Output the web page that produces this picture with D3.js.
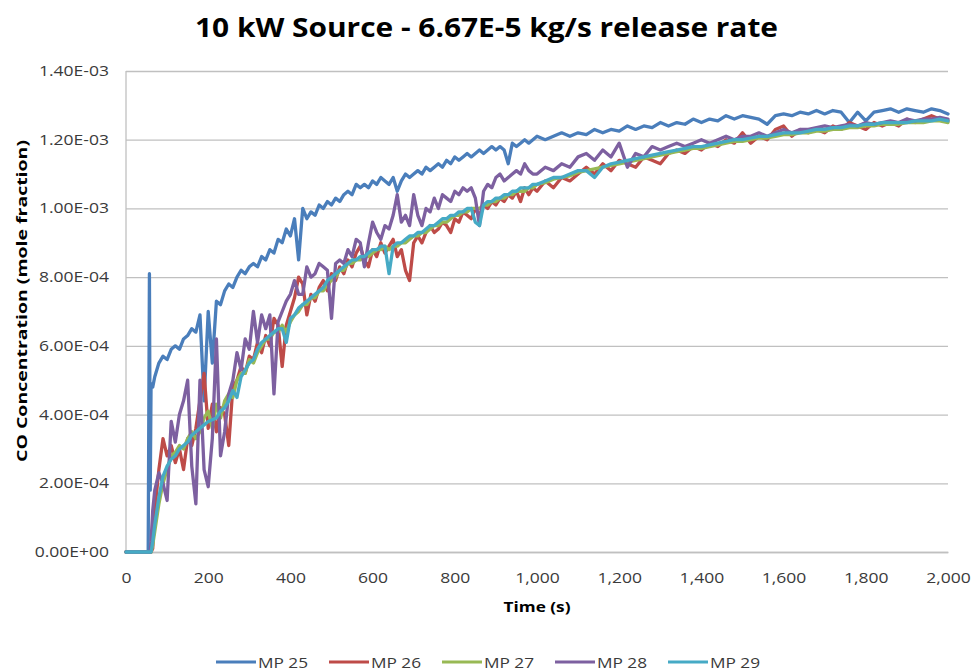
<!DOCTYPE html>
<html>
<head>
<meta charset="utf-8">
<script src="https://cdn.jsdelivr.net/npm/d3@7"></script>
<style>
  body { margin: 0; background: #ffffff; }
  svg { display: block; }
</style>
</head>
<body>
<svg id="chart" width="975" height="672"></svg>
<script>
// ---------------- DATA ----------------
// Time in seconds
const times = [
  0, 54, 57, 59, 61, 65,
  70, 80, 90, 100,
  110, 120, 130, 140, 150, 160, 170, 180, 190, 200,
  210, 220, 230, 240, 250, 260, 270, 280, 290, 300,
  310, 320, 330, 340, 350, 360, 370, 380, 390, 400,
  410, 420, 430, 440, 450, 460, 470, 480, 490, 500,
  510, 520, 530, 540, 550, 560, 570, 580, 590, 600,
  610, 620, 630, 640, 650, 660, 670, 680, 690, 700,
  710, 720, 730, 740, 750, 760, 770, 780, 790, 800,
  810, 820, 830, 840, 850, 860, 870, 880, 890, 900,
  910, 920, 930, 940, 950, 960, 970, 980, 990, 1000,
  1020, 1040, 1060, 1080, 1100, 1120, 1140, 1160, 1180, 1200,
  1220, 1240, 1260, 1280, 1300, 1320, 1340, 1360, 1380, 1400,
  1420, 1440, 1460, 1480, 1500, 1520, 1540, 1560, 1580, 1600,
  1620, 1640, 1660, 1680, 1700, 1720, 1740, 1760, 1780, 1800,
  1820, 1840, 1860, 1880, 1900, 1920, 1940, 1960, 1980, 2000
];

// CO concentration, in units of 1E-4 mole fraction
const mp25 = [
  0, 0, 8.1, 1.8, 4.9, 4.8,
  5.1, 5.5, 5.7, 5.6,
  5.9, 6.0, 5.9, 6.2, 6.3, 6.5, 6.4, 6.9, 4.4, 7.0,
  5.5, 7.3, 7.2, 7.6, 7.8, 7.7, 8.0, 8.2, 8.1, 8.3,
  8.4, 8.3, 8.6, 8.5, 8.8, 8.7, 9.1, 9.0, 9.4, 9.2,
  9.7, 8.5, 10.0, 9.7, 9.9, 9.8, 10.1, 10.0, 10.2, 10.1,
  10.3, 10.2, 10.4, 10.5, 10.4, 10.7, 10.6, 10.7, 10.6, 10.8,
  10.7, 10.9, 10.8, 10.7, 10.9, 10.5, 10.8, 11.0, 10.9, 11.0,
  11.1, 11.0, 11.2, 11.1, 11.2, 11.3, 11.2, 11.4, 11.3, 11.5,
  11.4, 11.5, 11.6, 11.5, 11.6, 11.7, 11.6, 11.7, 11.8, 11.7,
  11.8, 11.7, 11.3, 11.9, 11.8, 11.9, 12.0, 11.9, 12.0, 12.1,
  12.0, 12.1, 12.2, 12.1, 12.2, 12.15, 12.3, 12.2, 12.3, 12.25,
  12.4, 12.3, 12.4, 12.35, 12.5, 12.4, 12.5, 12.45, 12.6, 12.5,
  12.6, 12.55, 12.7, 12.6, 12.7, 12.65, 12.6, 12.45, 12.7, 12.75,
  12.7, 12.8, 12.75, 12.85, 12.75, 12.85, 12.8, 12.5, 12.8, 12.55,
  12.8, 12.85, 12.9, 12.8, 12.9, 12.85, 12.8, 12.9, 12.85, 12.75
];

const mp26 = [
  0, 0, 0, 0, 0, 0.1,
  1.2, 2.4, 3.3, 2.8,
  3.1, 2.6, 3.0, 2.4, 3.3, 3.1, 3.6, 4.4, 5.2, 3.6,
  4.3, 3.5, 4.2, 4.0, 3.1, 4.8, 5.0, 5.4, 5.2, 5.7,
  5.6, 6.1, 5.8, 6.3, 6.0, 6.8, 6.6, 5.4, 6.6, 7.0,
  7.4, 8.0, 7.8, 6.9, 7.5, 7.3, 7.7, 7.9, 7.6, 8.1,
  7.9, 8.3, 8.1, 8.5, 8.3, 8.7, 8.9, 8.5, 8.3, 8.8,
  8.6, 9.0, 8.7, 8.9, 9.1, 8.6, 8.8, 8.2, 7.9, 9.0,
  9.2, 9.0, 9.3, 9.5, 9.3, 9.4, 9.6, 9.5, 9.3, 9.7,
  9.6, 9.9, 9.8, 9.7, 10.0, 9.8, 10.1, 10.0, 10.2, 10.1,
  10.3, 10.2, 10.4, 10.3, 10.5, 10.2, 10.6, 10.4, 10.6, 10.5,
  10.8, 10.6, 10.9, 10.8, 11.0, 11.2, 11.0, 11.3, 11.1, 11.4,
  11.3, 11.2, 11.5, 11.4, 11.3, 11.6, 11.7, 11.6, 11.8, 11.7,
  11.9, 11.8, 12.0, 11.9, 12.2, 11.9, 12.1, 12.0, 12.3, 12.4,
  12.1, 12.3, 12.2, 12.3, 12.2, 12.4, 12.3, 12.5, 12.4, 12.3,
  12.5, 12.4, 12.5, 12.4, 12.6, 12.5, 12.6, 12.7, 12.6, 12.55
];

const mp27 = [
  0, 0, 0, 0, 0, 0.2,
  0.6, 1.4, 2.0, 2.4,
  2.8, 2.9, 3.1, 3.0, 3.3, 3.5, 3.3, 3.5, 3.9, 4.1,
  3.6, 4.3, 3.9, 4.4, 4.6, 4.5, 5.0, 5.2, 5.2, 5.6,
  5.5, 5.8, 6.0, 6.2, 6.2, 6.4, 6.4, 6.6, 6.4, 6.7,
  6.9, 7.0, 7.2, 7.2, 7.4, 7.4, 7.6, 7.6, 7.8, 7.9,
  8.0, 8.2, 8.2, 8.4, 8.4, 8.5, 8.5, 8.6, 8.6, 8.7,
  8.8, 8.8, 8.9, 8.8, 8.9, 8.9, 9.0, 9.0, 9.1, 9.2,
  9.2, 9.3, 9.3, 9.4, 9.5, 9.5, 9.6, 9.6, 9.7, 9.8,
  9.8, 9.9, 9.9, 10.0, 10.0, 10.0, 10.1, 10.1, 10.2, 10.2,
  10.3, 10.3, 10.4, 10.4, 10.5, 10.5, 10.5, 10.6, 10.6, 10.7,
  10.75, 10.85, 10.9, 10.95, 11.05, 11.1, 11.15, 11.2, 11.25, 11.3,
  11.35, 11.4, 11.45, 11.5, 11.55, 11.6, 11.65, 11.7, 11.75, 11.75,
  11.8, 11.85, 11.9, 11.95, 11.95, 12.0, 12.05, 12.05, 12.1, 12.15,
  12.15, 12.2, 12.2, 12.25, 12.25, 12.3, 12.3, 12.35, 12.35, 12.4,
  12.4, 12.45, 12.45, 12.45, 12.5, 12.5, 12.5, 12.55, 12.55, 12.5
];

const mp28 = [
  0, 0, 0, 0, 0.3, 1.2,
  1.8, 2.3, 2.0, 1.5,
  3.8, 3.2, 4.0, 4.4, 5.0, 2.5, 1.4, 5.0, 2.4, 1.9,
  3.3, 6.2, 2.8, 3.5, 4.6, 5.0, 5.8, 5.3, 6.2, 5.9,
  7.0, 6.1, 6.9, 6.5, 6.9, 4.6, 6.7, 7.0, 7.3, 7.5,
  7.9, 7.5, 7.5, 8.3, 8.0, 8.1, 8.4, 8.3, 8.2, 6.8,
  8.4, 8.5, 8.4, 8.8, 8.6, 9.1, 9.0, 8.3, 9.0, 9.6,
  9.3, 9.1, 9.5, 9.4, 9.8, 10.4, 9.6, 9.8, 9.5, 10.4,
  9.8, 9.5, 10.0, 9.9, 10.3, 10.0, 10.4, 10.3, 10.2, 10.5,
  10.4, 10.6, 10.5, 10.6, 10.3, 9.5, 10.5, 10.7, 10.6, 10.9,
  11.0, 10.8, 10.9, 11.0, 11.1, 11.0, 11.3, 11.1, 11.0, 11.0,
  11.2, 11.1, 11.3, 11.2, 11.5, 11.6, 11.4, 11.7, 11.5, 11.9,
  11.2, 11.6, 11.5, 11.8, 11.7, 11.8, 11.9, 11.8, 11.9, 12.0,
  11.9, 12.0, 12.1, 12.0, 12.1, 12.1, 12.2, 12.1, 12.2, 12.3,
  12.2, 12.3, 12.3, 12.35, 12.4, 12.35, 12.4, 12.45, 12.4, 12.5,
  12.45, 12.5, 12.55, 12.5, 12.6, 12.55, 12.6, 12.6, 12.65, 12.6
];

const mp29 = [
  0, 0, 0, 0, 0, 0.3,
  0.8, 1.6, 2.2, 2.5,
  2.7, 2.8, 3.0, 3.1, 3.2, 3.4, 3.5, 3.6, 3.7, 3.8,
  3.85, 3.9, 4.1, 4.2, 4.4, 4.7, 4.5, 5.1, 5.3, 5.5,
  5.6, 5.9, 6.1, 6.2, 6.3, 6.4, 6.5, 6.5, 6.1, 6.8,
  6.9, 7.1, 7.2, 7.3, 7.4, 7.5, 7.6, 7.7, 7.9, 8.0,
  8.1, 8.2, 8.3, 8.4, 8.5, 8.5, 8.6, 8.6, 8.7, 8.8,
  8.8, 8.9, 8.9, 8.1, 8.9, 9.0, 9.0, 9.1, 9.2, 9.2,
  9.3, 9.3, 9.4, 9.5, 9.5, 9.6, 9.7, 9.7, 9.8, 9.8,
  9.9, 9.9, 10.0, 10.0, 9.6, 9.5, 10.1, 10.2, 10.2, 10.3,
  10.3, 10.4, 10.4, 10.5, 10.5, 10.6, 10.6, 10.6, 10.7, 10.7,
  10.8, 10.9, 10.9, 11.0, 11.1, 11.1, 10.9, 11.2, 11.3, 11.35,
  11.4, 11.45, 11.5, 11.55, 11.6, 11.65, 11.7, 11.75, 11.8, 11.8,
  11.85, 11.9, 11.95, 12.0, 12.0, 12.05, 12.1, 12.1, 12.15, 12.2,
  12.2, 12.2, 12.25, 12.3, 12.3, 12.35, 12.35, 12.4, 12.4, 12.45,
  12.45, 12.5, 12.5, 12.5, 12.5, 12.55, 12.55, 12.55, 12.6, 12.55
];

const seriesNames = ["MP 25", "MP 26", "MP 27", "MP 28", "MP 29"];
const seriesValues = [mp25, mp26, mp27, mp28, mp29];
const seriesColors = ["#4a7ebb", "#be4b48", "#98b954", "#7d60a0", "#46aac5"];

const yTicks = [0, 2, 4, 6, 8, 10, 12, 14];           // x 1E-4
const xTicks = [0, 200, 400, 600, 800, 1000, 1200, 1400, 1600, 1800, 2000];

const titleText = "10 kW Source - 6.67E-5 kg/s release rate";
const xTitle = "Time (s)";
const yTitle = "CO Concentration (mole fraction)";

// ---------------- CHART ----------------
const FONT = "'Open Sans', 'Liberation Sans', sans-serif";
const svg = d3.select("#chart");
const plot = { left: 126, right: 948, top: 71, bottom: 552 };

const x = d3.scaleLinear().domain([0, 2000]).range([plot.left, plot.right]);
const y = d3.scaleLinear().domain([0, 14]).range([plot.bottom, plot.top]);

function sciFmt(d) {
  const v = d * 1e-4;
  if (v === 0) return "0.00E+00";
  const s = v.toExponential(2);            // e.g. 1.40e-3
  const [m, e] = s.split("e");
  const n = parseInt(e, 10);
  const sign = n < 0 ? "-" : "+";
  const abs = Math.abs(n);
  return m + "E" + sign + (abs < 10 ? "0" + abs : "" + abs);
}

function stretch(sel, k) {
  sel.each(function () {
    const w = this.getComputedTextLength();
    d3.select(this).attr("textLength", w * k).attr("lengthAdjust", "spacingAndGlyphs");
  });
}

// Y axis with gridlines
const yAxisG = svg.append("g")
  .attr("transform", `translate(${plot.left},0)`)
  .call(d3.axisLeft(y).tickValues(yTicks).tickSize(-(plot.right - plot.left)).tickPadding(17).tickFormat(sciFmt));
yAxisG.select(".domain").remove();
yAxisG.selectAll(".tick line").attr("stroke", "#c0c0c0").attr("stroke-width", 1.3);
yAxisG.selectAll(".tick text")
  .attr("font-family", FONT).attr("font-size", 14).attr("fill", "#3a3a3a");
stretch(yAxisG.selectAll(".tick text"), 1.25);

// left axis line
svg.append("line")
  .attr("x1", plot.left).attr("x2", plot.left)
  .attr("y1", y(14)).attr("y2", y(0))
  .attr("stroke", "#c0c0c0").attr("stroke-width", 1.3);

// X axis
const xAxisG = svg.append("g")
  .attr("transform", `translate(0,${plot.bottom})`)
  .call(d3.axisBottom(x).tickValues(xTicks).tickSize(0).tickPadding(21).tickFormat(d3.format(",")));
xAxisG.select(".domain").attr("stroke", "#c0c0c0").attr("stroke-width", 1.3);
xAxisG.selectAll(".tick text")
  .attr("font-family", FONT).attr("font-size", 14).attr("fill", "#3a3a3a");
stretch(xAxisG.selectAll(".tick text"), 1.25);

// Series lines
const line = d3.line()
  .x((d, i) => x(times[i]))
  .y(d => y(d));

svg.append("g").selectAll("path")
  .data(seriesValues)
  .join("path")
  .attr("d", d => line(d))
  .attr("fill", "none")
  .attr("stroke", (d, i) => seriesColors[i])
  .attr("stroke-width", 3.3)
  .attr("stroke-linejoin", "round")
  .attr("stroke-linecap", "round");

// Title
svg.append("text")
  .attr("x", 486.5).attr("y", 37)
  .attr("text-anchor", "middle")
  .attr("font-family", FONT).attr("font-weight", "bold").attr("font-size", 27)
  .attr("fill", "#000")
  .attr("textLength", 583).attr("lengthAdjust", "spacingAndGlyphs")
  .text(titleText);

// Axis titles
svg.append("text")
  .attr("x", (plot.left + plot.right) / 2).attr("y", 612)
  .attr("text-anchor", "middle")
  .attr("font-family", FONT).attr("font-weight", "bold").attr("font-size", 15)
  .attr("fill", "#000")
  .attr("textLength", 67).attr("lengthAdjust", "spacingAndGlyphs")
  .text(xTitle);

svg.append("text")
  .attr("transform", "translate(27,301) rotate(-90)")
  .attr("text-anchor", "middle")
  .attr("font-family", FONT).attr("font-weight", "bold").attr("font-size", 15)
  .attr("fill", "#000")
  .attr("textLength", 322).attr("lengthAdjust", "spacingAndGlyphs")
  .text(yTitle);

// Legend
const legend = svg.append("g");
const items = legend.selectAll("g")
  .data(seriesNames)
  .join("g")
  .attr("transform", (d, i) => `translate(${216 + i * 113},662)`);
items.append("line")
  .attr("x1", 0).attr("x2", 40).attr("y1", 0).attr("y2", 0)
  .attr("stroke", (d, i) => seriesColors[i]).attr("stroke-width", 3);
items.append("text")
  .attr("x", 42).attr("y", 5.5)
  .attr("font-family", FONT).attr("font-size", 15).attr("fill", "#3a3a3a")
  .text(d => d);
stretch(items.selectAll("text"), 1.15);
</script>
</body>
</html>
